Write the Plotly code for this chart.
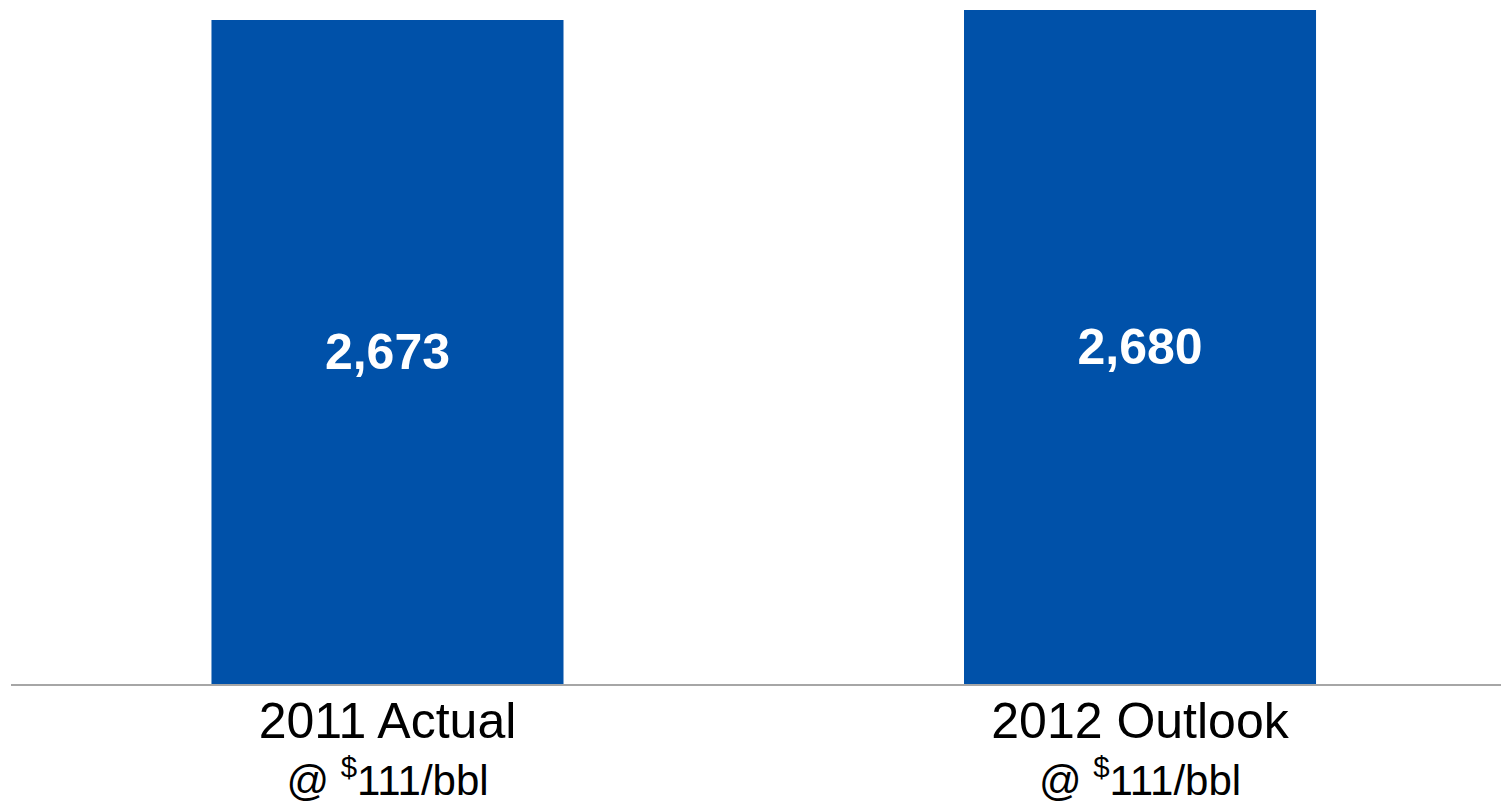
import plotly.graph_objects as go

categories = ["2011 Actual", "2012 Outlook"]
price_notes = ["@ <sup>$</sup>111/bbl", "@ <sup>$</sup>111/bbl"]
values = [2673, 2680]
value_labels = ["2,673", "2,680"]

axis_floor = 2208.2
axis_top = 2687.0
bar_color = "#0051A9"
font_family = "Liberation Sans, Arial, sans-serif"

tick_text = [
    f"<span style='font-size:50px'>{c}</span><br><span style='font-size:42px'>{p}</span>"
    for c, p in zip(categories, price_notes)
]

fig = go.Figure(
    go.Bar(
        x=list(range(len(categories))),
        y=[v - axis_floor for v in values],
        base=axis_floor,
        width=0.4678,
        marker=dict(color=bar_color, line=dict(width=0)),
        text=[f"<b>{t}</b>" for t in value_labels],
        textposition="inside",
        insidetextanchor="middle",
        textangle=0,
        textfont=dict(color="white", size=50, family=font_family),
        hoverinfo="skip",
    )
)

fig.update_layout(
    width=1501,
    height=808,
    margin=dict(l=11, r=0, t=0, b=124),
    paper_bgcolor="white",
    plot_bgcolor="white",
    showlegend=False,
    font=dict(family=font_family, color="black"),
)
fig.update_xaxes(
    range=[-0.5003, 1.4797],
    tickmode="array",
    tickvals=list(range(len(categories))),
    ticktext=tick_text,
    tickfont=dict(size=44, color="black", family=font_family),
    ticklabelstandoff=-1,
    showline=True,
    linecolor="#A6A6A6",
    linewidth=2,
    showgrid=False,
    zeroline=False,
    ticks="",
    automargin=False,
)
fig.update_yaxes(visible=False, range=[axis_floor, axis_top], automargin=False)

fig.write_html(
    "out.html",
    config={"displayModeBar": False},
    post_script="document.body.style.margin='0px';",
)
